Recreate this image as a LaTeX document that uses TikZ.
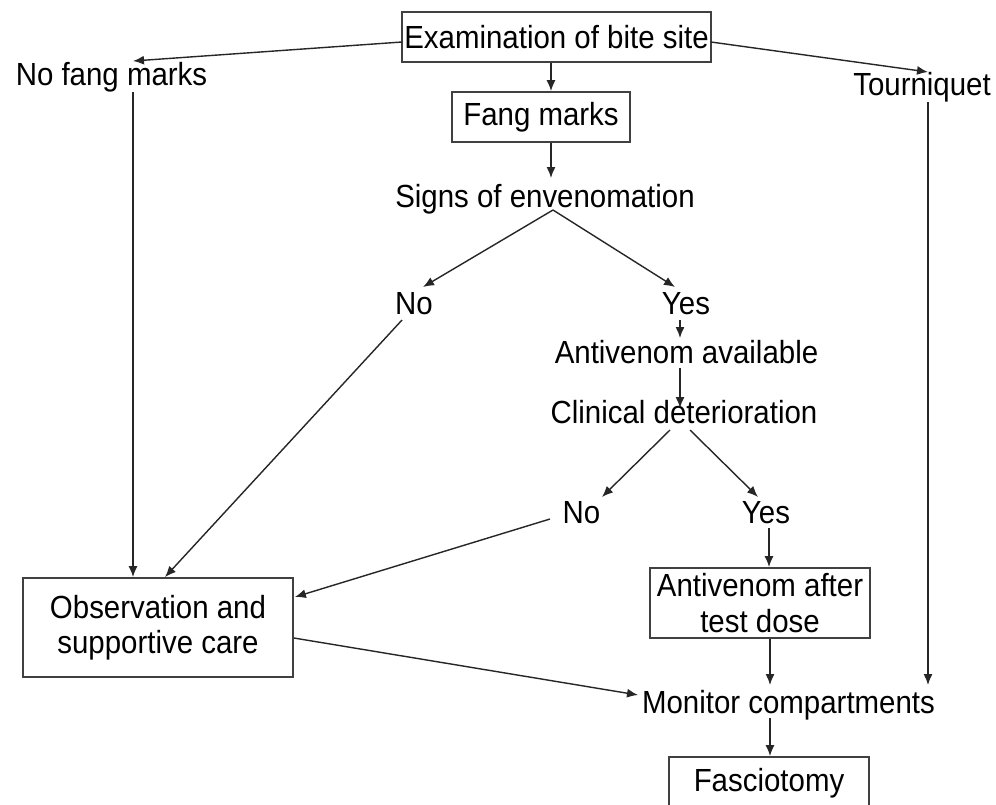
\documentclass[tikz,border=0pt]{standalone}
\usepackage{fontspec}
\setmainfont{Liberation Sans}[FakeStretch=0.92]
\usetikzlibrary{arrows.meta,calc}
\tikzset{
  txt/.style={inner sep=0pt, font=\fontsize{32}{35.5}\selectfont, text=black},
  boxst/.style={txt, draw=black!75, line width=1.8pt, align=center},
  conn/.style={draw=black!85, line width=1.4pt, -{Latex[length=11pt,width=9pt]}},
}
\begin{document}
\begin{tikzpicture}[x=1pt,y=-1pt]
\clip (0,0) rectangle (996,804);
\fill[white] (0,0) rectangle (996,804);
% boxes
\node[boxst, minimum width=309pt, minimum height=50pt] (exam) at (556.5,37) {Examination of bite site};
\node[boxst, minimum width=178pt, minimum height=50pt] (fang) at (541,117) {Fang marks};
\node[boxst, minimum width=270pt, minimum height=99pt] (obs) at (158,627.5) {Observation and\\supportive care};
\node[boxst, minimum width=220pt, minimum height=70pt] (avtd) at (760,603) {Antivenom after\\test dose};
\node[boxst, minimum width=200pt, minimum height=53pt] (fasc) at (769,783.5) {Fasciotomy};
% plain texts
\node[txt, anchor=base] (nofang) at (111.5,85) {No fang marks};
\node[txt, anchor=base] (tourn) at (922,95) {Tourniquet};
\node[txt, anchor=base] (signs) at (545,207) {Signs of envenomation};
\node[txt, anchor=base] (noa) at (414,314) {No};
\node[txt, anchor=base] (yesa) at (686,314) {Yes};
\node[txt, anchor=base] (avail) at (686.5,363) {Antivenom available};
\node[txt, anchor=base] (clin) at (684,423) {Clinical deterioration};
\node[txt, anchor=base] (nob) at (581.5,523) {No};
\node[txt, anchor=base] (yesb) at (766,523) {Yes};
\node[txt, anchor=base] (mon) at (788.5,713) {Monitor compartments};
% connectors
\draw[conn] ($(exam.center)+(-154.5,5)$) -- ($(nofang.base)+(21.5,-24)$);
\draw[conn] ($(exam.center)+(154.5,5)$) -- ($(tourn.base)+(6,-23)$);
\draw[conn] ($(nofang.base)+(21.5,7)$) -- ($(obs.north)+(-25,0)$);
\draw[conn] ($(tourn.base)+(6,7)$) -- ($(mon.base)+(139.5,-28)$);
\draw[conn] ($(exam.south)+(-5.5,0)$) -- ($(fang.north)+(10,0)$);
\draw[conn] ($(fang.south)+(10,0)$) -- ($(signs.base)+(6,-29)$);
\draw[conn] ($(signs.base)+(8,3)$) -- ($(noa.base)+(9,-27)$);
\draw[conn] ($(signs.base)+(8,3)$) -- ($(yesa.base)+(-11,-27)$);
\draw[conn] ($(yesa.base)+(-6,6)$) -- ($(avail.base)+(-6.5,-25)$);
\draw[conn] ($(avail.base)+(-6.5,5)$) -- ($(clin.base)+(-4,-15)$);
\draw[conn] ($(clin.base)+(-14,7)$) -- ($(nob.base)+(20.5,-26)$);
\draw[conn] ($(clin.base)+(6,7)$) -- ($(yesb.base)+(-8,-26)$);
\draw[conn] ($(noa.base)+(-12,6)$) -- ($(obs.north)+(7,0)$);
\draw[conn] ($(nob.base)+(-31.5,-4)$) -- ($(obs.east)+(1,-30.5)$);
\draw[conn] ($(yesb.base)+(3,5)$) -- ($(avtd.north)+(9,0)$);
\draw[conn] ($(avtd.south)+(10,0)$) -- ($(mon.base)+(-18.5,-28)$);
\draw[conn] ($(obs.east)+(0,10.5)$) -- ($(mon.base)+(-150.5,-18)$);
\draw[conn] ($(mon.base)+(-18.5,5)$) -- ($(fasc.north)+(1,0)$);
\end{tikzpicture}
\end{document}
